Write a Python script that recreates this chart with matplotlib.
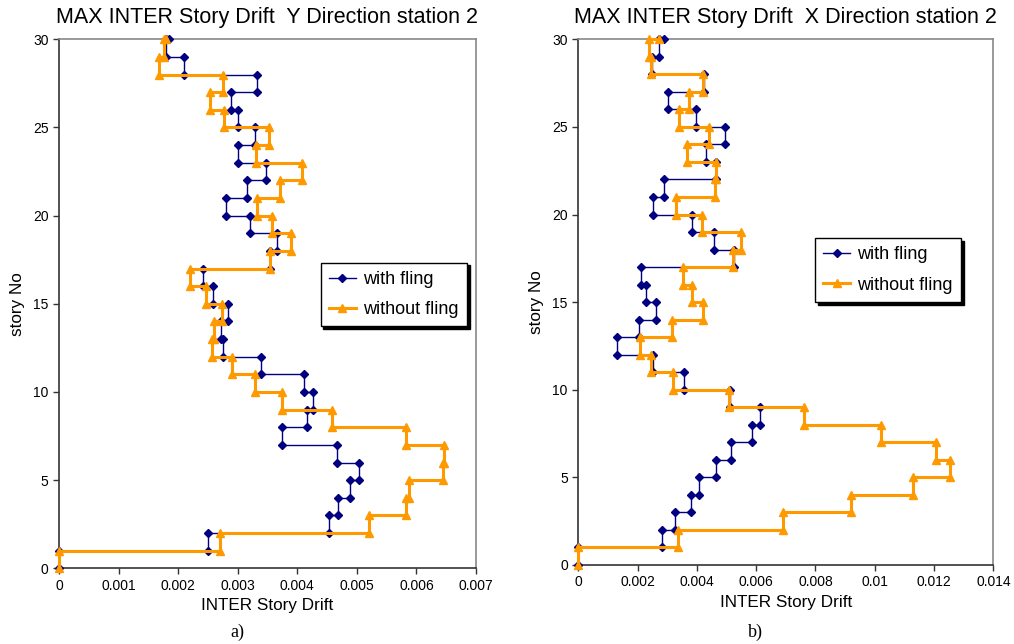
import numpy as np
import matplotlib.pyplot as plt
from matplotlib.ticker import FuncFormatter, MultipleLocator

plt.rcParams['font.family'] = ['Liberation Sans', 'DejaVu Sans']

stories = np.arange(31)

# inter-story drift for each band (story k to k+1), last value is the roof point
Y_fling = [0, 0.00250, 0.00454, 0.00469, 0.00489, 0.00504, 0.00466, 0.00374, 0.00417, 0.00427,
           0.00411, 0.00339, 0.00275, 0.00272, 0.00283, 0.00259, 0.00242, 0.00354, 0.00366, 0.00321,
           0.00280, 0.00315, 0.00347, 0.00301, 0.00329, 0.00300, 0.00288, 0.00332, 0.00210, 0.00179,
           0.00185]
Y_nofling = [0, 0.00270, 0.00520, 0.00582, 0.00587, 0.00644, 0.00646, 0.00582, 0.00459, 0.00375,
             0.00329, 0.00291, 0.00256, 0.00261, 0.00273, 0.00247, 0.00220, 0.00355, 0.00389, 0.00357,
             0.00332, 0.00371, 0.00408, 0.00331, 0.00352, 0.00277, 0.00254, 0.00275, 0.00168, 0.00177,
             0.00180]

X_fling = [0, 0.00284, 0.00327, 0.00380, 0.00407, 0.00466, 0.00514, 0.00586, 0.00612, 0.00511,
           0.00356, 0.00253, 0.00129, 0.00204, 0.00261, 0.00228, 0.00210, 0.00524, 0.00457, 0.00382,
           0.00253, 0.00290, 0.00464, 0.00430, 0.00494, 0.00396, 0.00303, 0.00423, 0.00247, 0.00273,
           0.00290]
X_nofling = [0, 0.00337, 0.00690, 0.00921, 0.01128, 0.01255, 0.01207, 0.01021, 0.00763, 0.00507,
             0.00318, 0.00245, 0.00208, 0.00315, 0.00421, 0.00382, 0.00352, 0.00522, 0.00548, 0.00419,
             0.00329, 0.00462, 0.00464, 0.00368, 0.00441, 0.00340, 0.00374, 0.00421, 0.00245, 0.00240,
             0.00273]

titles = ['MAX INTER Story Drift  Y Direction station 2', 'MAX INTER Story Drift  X Direction station 2']
panel_tags = ['a)', 'b)']
series_names = ['with fling', 'without fling']

BLUE = '#000080'
ORANGE = '#FF9900'


def step_path(drift):
    d = np.asarray(drift)
    xs = np.append(np.repeat(d[:-1], 2), d[-1])
    ys = np.repeat(stories, 2)[1:]
    return xs, ys


fig = plt.figure(figsize=(10.14, 6.44), dpi=100)
ax1 = fig.add_axes([0.0582, 0.1175, 0.4112, 0.8215])
ax2 = fig.add_axes([0.5703, 0.1227, 0.4093, 0.8163])

panels = [(ax1, Y_fling, Y_nofling, 0.007, 0.001, (320.7, 262.7)),
          (ax2, X_fling, X_nofling, 0.014, 0.002, (815, 238))]

for i, (ax, fl, nofl, xmax, step, legpos) in enumerate(panels):
    x, y = step_path(fl)
    ax.plot(x, y, color=BLUE, lw=1.0, marker='D', ms=4.2, mec=BLUE, mfc=BLUE,
            label=series_names[0], zorder=3)
    x, y = step_path(nofl)
    ax.plot(x, y, color=ORANGE, lw=2.2, marker='^', ms=6, mec=ORANGE, mfc=ORANGE,
            label=series_names[1], zorder=4)

    ax.set_xlim(0, xmax)
    ax.set_ylim(0, 30)
    ax.xaxis.set_major_locator(MultipleLocator(step))
    ax.yaxis.set_major_locator(MultipleLocator(5))
    ax.xaxis.set_major_formatter(FuncFormatter(lambda v, p: '%g' % round(v, 4)))
    ax.tick_params(direction='out', length=4, width=1, labelsize=10, colors='#333333',
                   labelcolor='black', top=False, right=False)
    for s in ['left', 'bottom']:
        ax.spines[s].set_color('#333333')
        ax.spines[s].set_linewidth(1.2)
    for s in ['top', 'right']:
        ax.spines[s].set_color('#888888')
        ax.spines[s].set_linewidth(1.2)
    for line in ax.get_lines():
        line.set_clip_on(False)

    ax.set_title(titles[i], fontsize=15.5, pad=12)
    ax.set_xlabel('INTER Story Drift', fontsize=12.3, labelpad=4)
    ax.set_ylabel('story No', fontsize=12.3, labelpad=6)

    leg = ax.legend(loc='upper left', bbox_to_anchor=(legpos[0] / 1014, 1 - legpos[1] / 644),
                    bbox_transform=fig.transFigure, borderaxespad=0, fontsize=13,
                    frameon=True, fancybox=False, edgecolor='black', framealpha=1,
                    handlelength=1.5, handletextpad=0.4, borderpad=0.45, labelspacing=0.75,
                    shadow={'color': 'black', 'alpha': 1})
    leg.get_frame().set_linewidth(1.0)

    cx = (ax.get_position().x0 + ax.get_position().x1) / 2
    fig.text(cx - 0.03, 1 - 632 / 644, panel_tags[i], ha='center', va='center',
             fontsize=13, family='Liberation Serif')

fig.savefig('out.png', dpi=100)
